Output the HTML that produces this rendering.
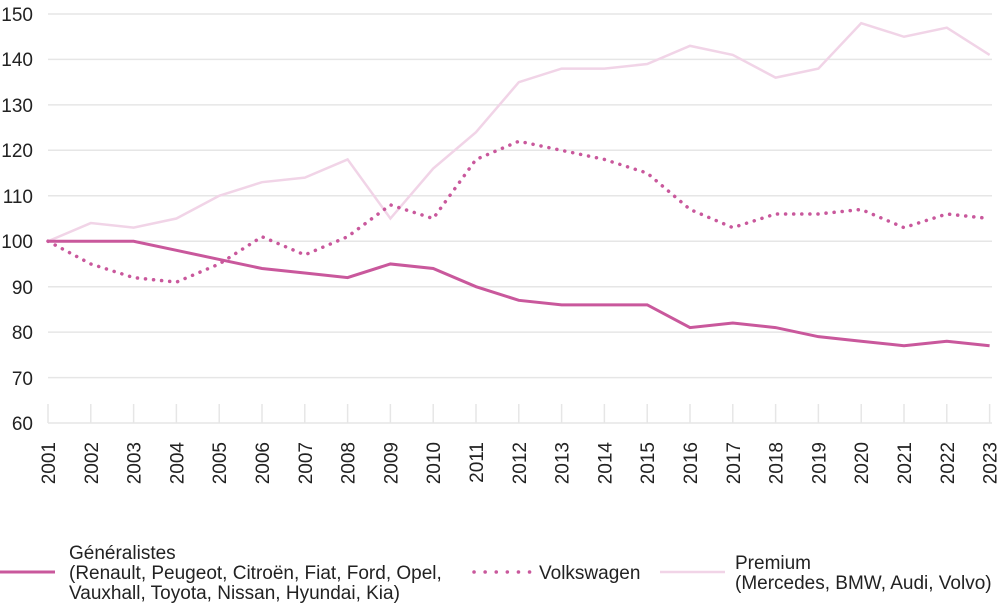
<!DOCTYPE html>
<html><head><meta charset="utf-8"><style>
body{margin:0;background:#fff}
svg{display:block;font-family:"Liberation Sans",Arial,sans-serif}
</style></head><body>
<svg width="1000" height="603" xmlns="http://www.w3.org/2000/svg">
<g stroke="#e6e6e6" stroke-width="1.5">
<line x1="48" x2="992" y1="14" y2="14"/>
<line x1="48" x2="992" y1="59.4" y2="59.4"/>
<line x1="48" x2="992" y1="104.9" y2="104.9"/>
<line x1="48" x2="992" y1="150.3" y2="150.3"/>
<line x1="48" x2="992" y1="195.8" y2="195.8"/>
<line x1="48" x2="992" y1="241.2" y2="241.2"/>
<line x1="48" x2="992" y1="286.7" y2="286.7"/>
<line x1="48" x2="992" y1="332.1" y2="332.1"/>
<line x1="48" x2="992" y1="377.6" y2="377.6"/>
<line x1="48" x2="992" y1="423" y2="423"/>
<line x1="48" x2="48" y1="404" y2="423"/><line x1="90.8" x2="90.8" y1="404" y2="423"/><line x1="133.6" x2="133.6" y1="404" y2="423"/><line x1="176.4" x2="176.4" y1="404" y2="423"/><line x1="219.2" x2="219.2" y1="404" y2="423"/><line x1="262" x2="262" y1="404" y2="423"/><line x1="304.8" x2="304.8" y1="404" y2="423"/><line x1="347.6" x2="347.6" y1="404" y2="423"/><line x1="390.4" x2="390.4" y1="404" y2="423"/><line x1="433.2" x2="433.2" y1="404" y2="423"/><line x1="476" x2="476" y1="404" y2="423"/><line x1="518.8" x2="518.8" y1="404" y2="423"/><line x1="561.6" x2="561.6" y1="404" y2="423"/><line x1="604.4" x2="604.4" y1="404" y2="423"/><line x1="647.2" x2="647.2" y1="404" y2="423"/><line x1="690" x2="690" y1="404" y2="423"/><line x1="732.8" x2="732.8" y1="404" y2="423"/><line x1="775.6" x2="775.6" y1="404" y2="423"/><line x1="818.4" x2="818.4" y1="404" y2="423"/><line x1="861.2" x2="861.2" y1="404" y2="423"/><line x1="904" x2="904" y1="404" y2="423"/><line x1="946.8" x2="946.8" y1="404" y2="423"/><line x1="989.6" x2="989.6" y1="404" y2="423"/>
</g>
<g font-size="19" fill="#222" text-anchor="end">
<text x="33" y="21">150</text><text x="33" y="66">140</text><text x="33" y="112">130</text>
<text x="33" y="157">120</text><text x="33" y="203">110</text><text x="33" y="248">100</text>
<text x="33" y="294">90</text><text x="33" y="339">80</text><text x="33" y="385">70</text>
<text x="33" y="430">60</text>
</g>
<g font-size="19" fill="#222" text-anchor="end">
<text transform="translate(55,442) rotate(-90)">2001</text>
<text transform="translate(97.8,442) rotate(-90)">2002</text>
<text transform="translate(140.6,442) rotate(-90)">2003</text>
<text transform="translate(183.4,442) rotate(-90)">2004</text>
<text transform="translate(226.2,442) rotate(-90)">2005</text>
<text transform="translate(269,442) rotate(-90)">2006</text>
<text transform="translate(311.8,442) rotate(-90)">2007</text>
<text transform="translate(354.6,442) rotate(-90)">2008</text>
<text transform="translate(397.4,442) rotate(-90)">2009</text>
<text transform="translate(440.2,442) rotate(-90)">2010</text>
<text transform="translate(483,442) rotate(-90)">2011</text>
<text transform="translate(525.8,442) rotate(-90)">2012</text>
<text transform="translate(568.6,442) rotate(-90)">2013</text>
<text transform="translate(611.4,442) rotate(-90)">2014</text>
<text transform="translate(654.2,442) rotate(-90)">2015</text>
<text transform="translate(697,442) rotate(-90)">2016</text>
<text transform="translate(739.8,442) rotate(-90)">2017</text>
<text transform="translate(782.6,442) rotate(-90)">2018</text>
<text transform="translate(825.4,442) rotate(-90)">2019</text>
<text transform="translate(868.2,442) rotate(-90)">2020</text>
<text transform="translate(911,442) rotate(-90)">2021</text>
<text transform="translate(953.8,442) rotate(-90)">2022</text>
<text transform="translate(996.6,442) rotate(-90)">2023</text>
</g>
<polyline id="prem" fill="none" stroke="#f1d4e7" stroke-width="2.5"/>
<polyline id="vw" fill="none" stroke="#c9589c" stroke-width="3.5" stroke-dasharray="0.1 8" stroke-linecap="round"/>
<polyline id="gen" fill="none" stroke="#c9589c" stroke-width="3"/>
<line x1="0" x2="55" y1="572" y2="572" stroke="#c9589c" stroke-width="3"/>
<line x1="474" x2="530" y1="572" y2="572" stroke="#c9589c" stroke-width="3.5" stroke-dasharray="0.1 11" stroke-linecap="round"/>
<line x1="660" x2="725" y1="572" y2="572" stroke="#f1d4e7" stroke-width="2.5"/>
<g font-size="19" fill="#222">
<text x="69" y="559">Généralistes</text>
<text x="69" y="579">(Renault, Peugeot, Citroën, Fiat, Ford, Opel,</text>
<text x="69" y="599">Vauxhall, Toyota, Nissan, Hyundai, Kia)</text>
<text x="539" y="579">Volkswagen</text>
<text x="735" y="569">Premium</text>
<text x="735" y="589">(Mercedes, BMW, Audi, Volvo)</text>
</g>
<script>
var X=function(i){return 48+i*42.8},Y=function(v){return 423-(v-60)*4.544};
var d={gen:[100,100,100,98,96,94,93,92,95,94,90,87,86,86,86,81,82,81,79,78,77,78,77],
vw:[100,95,92,91,95,101,97,101,108,105,118,122,120,118,115,107,103,106,106,107,103,106,105],
prem:[100,104,103,105,110,113,114,118,105,116,124,135,138,138,139,143,141,136,138,148,145,147,141]};
for(var k in d){document.getElementById(k).setAttribute('points',d[k].map(function(v,i){return X(i)+','+Y(v)}).join(' '));}
</script>
</svg>
</body></html>
